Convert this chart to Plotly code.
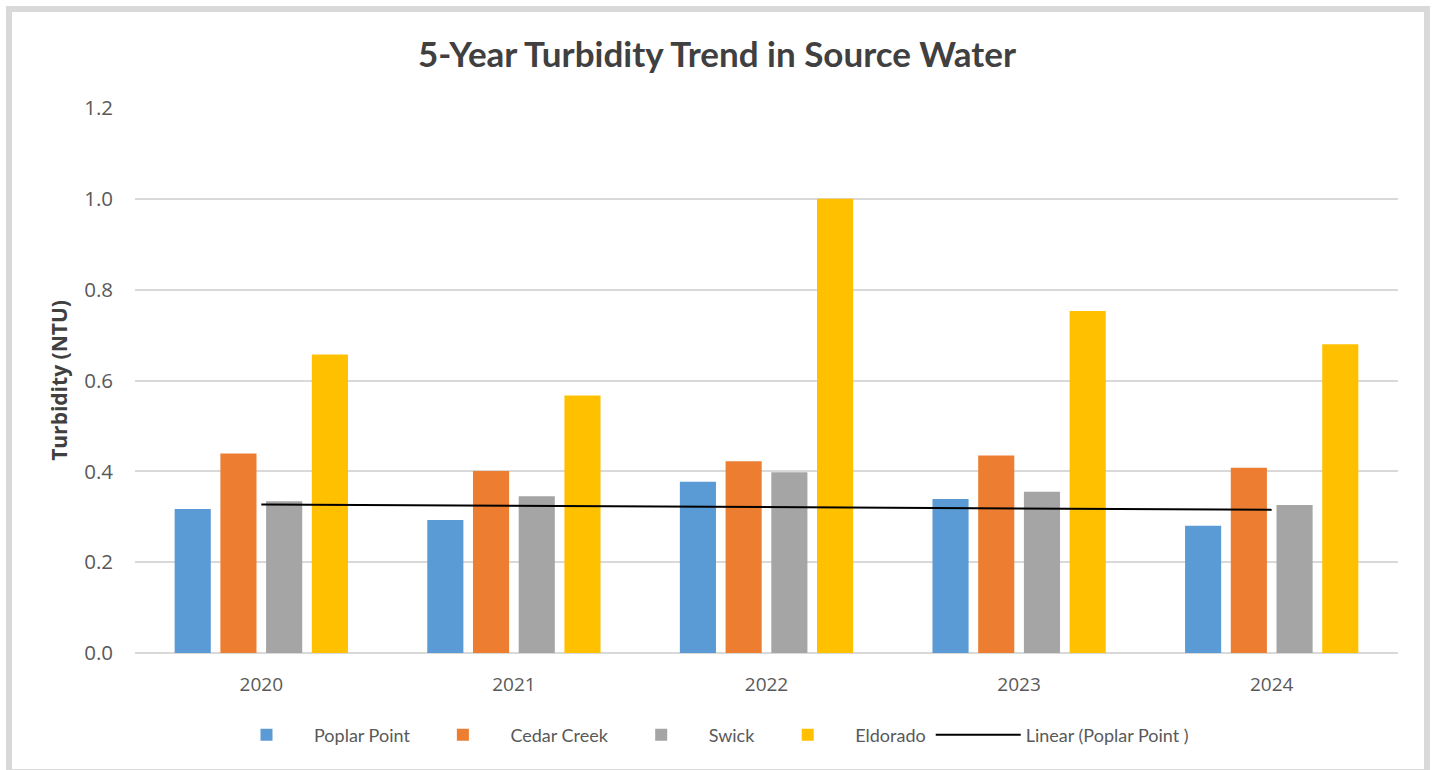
import numpy as np
import plotly.graph_objects as go

years = ["2020", "2021", "2022", "2023", "2024"]
poplar_point = [0.317, 0.293, 0.377, 0.339, 0.280]
cedar_creek = [0.439, 0.401, 0.422, 0.435, 0.408]
swick = [0.334, 0.345, 0.398, 0.355, 0.326]
eldorado = [0.657, 0.567, 1.000, 0.753, 0.680]

series_names = ["Poplar Point", "Cedar Creek", "Swick", "Eldorado"]
series_colors = ["#5B9BD5", "#ED7D31", "#A5A5A5", "#FFC000"]
series_values = [poplar_point, cedar_creek, swick, eldorado]

y_ticks = [0.0, 0.2, 0.4, 0.6, 0.8, 1.0, 1.2]

# linear trendline of Poplar Point (least squares, as in the spreadsheet)
idx = np.arange(1, len(years) + 1)
slope, intercept = np.polyfit(idx, poplar_point, 1)
trend = list(slope * idx + intercept)

W, H = 1434, 770
L, R, T, B = 135, 36, 108, 117
PW, PH = W - L - R, H - T - B

fig = go.Figure()
for name, color, vals in zip(series_names, series_colors, series_values):
    fig.add_trace(go.Bar(x=years, y=vals, name=name, marker=dict(color=color, line=dict(width=0))))

fig.add_trace(go.Scatter(x=years, y=trend, mode="lines", name="Linear (Poplar Point )",
                         line=dict(color="#000000", width=2)))

def px_to_paper_x(px):
    return (px - L) / PW

def px_to_paper_y(py):
    return (H - B - py) / PH

fig.update_layout(
    width=W, height=H, autosize=False,
    margin=dict(l=L, r=R, t=T, b=B, autoexpand=False),
    paper_bgcolor="white", plot_bgcolor="white",
    barmode="group", bargap=0.276, bargroupgap=0.21,
    title=dict(text="<b>5-Year Turbidity Trend in Source Water</b>",
               x=0.5, xref="container", xanchor="center",
               y=1 - 55 / H, yref="container", yanchor="middle",
               font=dict(family="Lato", size=35, color="#404040")),
    font=dict(family="Open Sans", color="#595959"),
    showlegend=True,
    legend=dict(orientation="h", x=px_to_paper_x(219), xref="paper", xanchor="left",
                y=px_to_paper_y(735), yanchor="middle",
                font=dict(family="Lato", size=18, color="#595959"),
                traceorder="normal", itemwidth=85),
    xaxis=dict(type="category", showgrid=False, showline=False, zeroline=False,
               ticks="", tickfont=dict(size=19, color="#595959"), ticklabelstandoff=18),
    yaxis=dict(range=[0, 1.2], tickvals=y_ticks, ticktext=[f"{v:.1f}" for v in y_ticks],
               showgrid=True, gridcolor="#D9D9D9", gridwidth=1.5,
               zeroline=True, zerolinecolor="#D9D9D9", zerolinewidth=1.5,
               showline=False, ticks="", tickfont=dict(size=20.5, color="#595959"),
               ticklabelstandoff=21,
               title=dict(text="<b>Turbidity (NTU)</b>", standoff=10,
                          font=dict(family="Open Sans", size=21, color="#404040"))),
    shapes=[dict(type="rect", xref="paper", yref="paper",
                 x0=px_to_paper_x(9), x1=px_to_paper_x(1427),
                 y0=px_to_paper_y(772), y1=px_to_paper_y(9),
                 line=dict(color="#D9D9D9", width=6), fillcolor="rgba(0,0,0,0)",
                 layer="below")],
)

fig.write_html("out.html", config={"displayModeBar": False},
               post_script="document.body.style.margin='0';")
